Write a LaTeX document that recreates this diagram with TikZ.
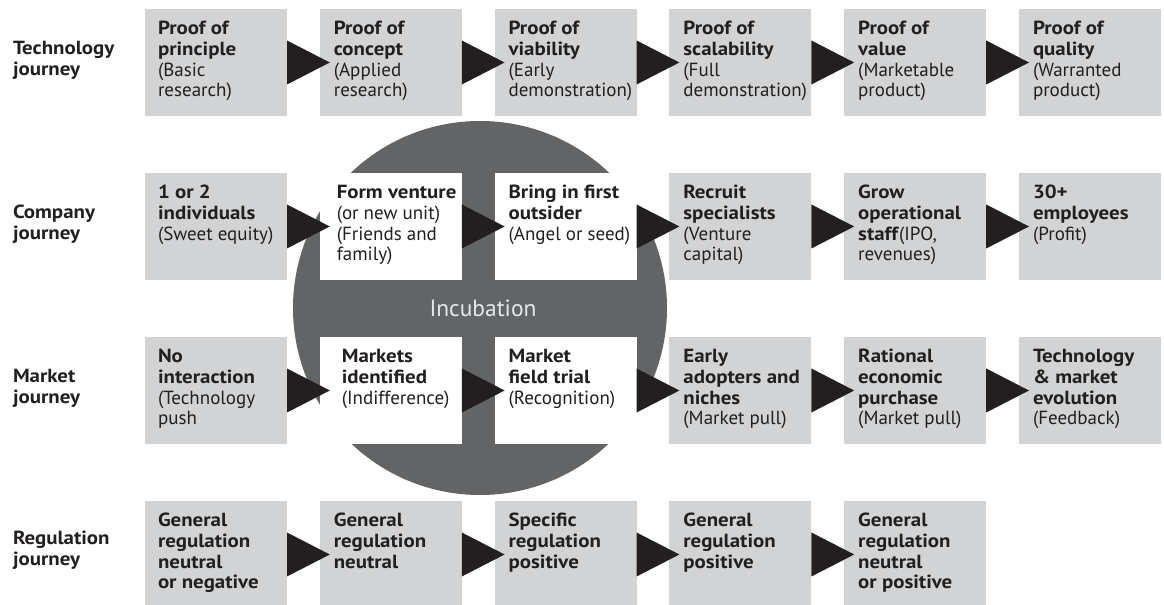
\documentclass[tikz,border=0pt]{standalone}
\usepackage{fontspec}
\setmainfont{PT Sans}[BoldFeatures={FakeStretch=1.1}]
\usetikzlibrary{calc}
\definecolor{boxgray}{HTML}{D1D3D4}
\definecolor{circgray}{HTML}{636466}
\definecolor{ink}{HTML}{231F20}
\definecolor{incub}{HTML}{E6E7E8}
\tikzset{
  gbox/.style={draw=none, fill=boxgray, anchor=north west, minimum width=106.5pt, minimum height=80.25pt, inner sep=0pt, outer sep=0pt},
  wbox/.style={gbox, fill=white},
  btext/.style={anchor=north west, inner sep=0pt, outer sep=0pt, align=left, text=ink, font=\fontsize{14.25}{15.5}\selectfont},
  arr/.style={fill=ink, draw=none},
}
\newcommand{\fl}{\rule{0pt}{10.5pt}}
\newcommand{\jarrow}[2]{\fill[arr] ($(#1.east)+(0,-22)$) -- ($(#1.east)+(0,22)$) -- ($(#2.west)+(10,0)$) -- cycle;}
\begin{document}
\begin{tikzpicture}[x=0.75pt, y=-0.75pt]
\useasboundingbox (0,0) rectangle (1164,605);
% incubation circle
\fill[circgray] (480,308) circle [radius=140.25pt];
\node[anchor=base, inner sep=0pt, text=incub, font=\fontsize{17.6}{18}\selectfont] (incu) at (483,317) {Incubation};
% row labels
\node[btext] (l1) at (13,41) {\fl\textbf{Technology}\\\textbf{journey}};
\node[btext] (l2) at (13,205) {\fl\textbf{Company}\\\textbf{journey}};
\node[btext] (l3) at (13,369) {\fl\textbf{Market}\\\textbf{journey}};
\node[btext] (l4) at (13,531) {\fl\textbf{Regulation}\\\textbf{journey}};
% row 1
\node[gbox] (t1) at (145,9) {};
\node[gbox] (t2) at (319.8,9) {};
\node[gbox] (t3) at (494.6,9) {};
\node[gbox] (t4) at (669.4,9) {};
\node[gbox] (t5) at (844.2,9) {};
\node[gbox] (t6) at (1019,9) {};
% row 2
\node[gbox] (c1) at (145,173) {};
\node[wbox] (c2) at (319.8,173) {};
\node[wbox] (c3) at (494.6,173) {};
\node[gbox] (c4) at (669.4,173) {};
\node[gbox] (c5) at (844.2,173) {};
\node[gbox] (c6) at (1019,173) {};
% row 3
\node[gbox] (m1) at (145,337) {};
\node[wbox] (m2) at (319.8,337) {};
\node[wbox] (m3) at (494.6,337) {};
\node[gbox] (m4) at (669.4,337) {};
\node[gbox] (m5) at (844.2,337) {};
\node[gbox] (m6) at (1019,337) {};
% row 4
\node[gbox] (r1) at (145,501) {};
\node[gbox] (r2) at (319.8,501) {};
\node[gbox] (r3) at (494.6,501) {};
\node[gbox] (r4) at (669.4,501) {};
\node[gbox] (r5) at (844.2,501) {};
% arrows
\jarrow{t1}{t2}\jarrow{t2}{t3}\jarrow{t3}{t4}\jarrow{t4}{t5}\jarrow{t5}{t6}
\jarrow{c1}{c2}\jarrow{c2}{c3}\jarrow{c3}{c4}\jarrow{c4}{c5}\jarrow{c5}{c6}
\jarrow{m1}{m2}\jarrow{m2}{m3}\jarrow{m3}{m4}\jarrow{m4}{m5}\jarrow{m5}{m6}
\jarrow{r1}{r2}\jarrow{r2}{r3}\jarrow{r3}{r4}\jarrow{r4}{r5}
% texts row 1
\node[btext] (tt1) at ($(t1.north west)+(13,12)$) {\fl\textbf{Proof of}\\\textbf{principle}\\(Basic\\research)};
\node[btext] (tt2) at ($(t2.north west)+(14,12)$) {\fl\textbf{Proof of}\\\textbf{concept}\\(Applied\\research)};
\node[btext] (tt3) at ($(t3.north west)+(14,12)$) {\fl\textbf{Proof of}\\\textbf{viability}\\(Early\\demonstration)};
\node[btext] (tt4) at ($(t4.north west)+(14,12)$) {\fl\textbf{Proof of}\\\textbf{scalability}\\(Full\\demonstration)};
\node[btext] (tt5) at ($(t5.north west)+(14,12)$) {\fl\textbf{Proof of}\\\textbf{value}\\(Marketable\\product)};
\node[btext] (tt6) at ($(t6.north west)+(14,12)$) {\fl\textbf{Proof of}\\\textbf{quality}\\(Warranted\\product)};
% texts row 2
\node[btext] (ct1) at ($(c1.north west)+(13,12)$) {\fl\textbf{1 or 2}\\\textbf{individuals}\\(Sweet equity)};
\node[btext] (ct2) at ($(c2.north west)+(17,12)$) {\fl\textbf{Form venture}\\(or new unit)\\(Friends and\\family)};
\node[btext] (ct3) at ($(c3.north west)+(14,12)$) {\fl\textbf{Bring in first}\\\textbf{outsider}\\(Angel or seed)};
\node[btext] (ct4) at ($(c4.north west)+(14,12)$) {\fl\textbf{Recruit}\\\textbf{specialists}\\(Venture\\capital)};
\node[btext] (ct5) at ($(c5.north west)+(14,12)$) {\fl\textbf{Grow}\\\textbf{operational}\\\textbf{staff}(IPO,\\revenues)};
\node[btext] (ct6) at ($(c6.north west)+(14,12)$) {\fl\textbf{30+}\\\textbf{employees}\\(Profit)};
% texts row 3
\node[btext] (mt1) at ($(m1.north west)+(13,12)$) {\fl\textbf{No}\\\textbf{interaction}\\(Technology\\push};
\node[btext] (mt2) at ($(m2.north west)+(22,12)$) {\fl\textbf{Markets}\\\textbf{identified}\\(Indifference)};
\node[btext] (mt3) at ($(m3.north west)+(14,12)$) {\fl\textbf{Market}\\\textbf{field trial}\\(Recognition)};
\node[btext] (mt4) at ($(m4.north west)+(14,12)$) {\fl\textbf{Early}\\\textbf{adopters and}\\\textbf{niches}\\(Market pull)};
\node[btext] (mt5) at ($(m5.north west)+(14,12)$) {\fl\textbf{Rational}\\\textbf{economic}\\\textbf{purchase}\\(Market pull)};
\node[btext] (mt6) at ($(m6.north west)+(14,12)$) {\fl\textbf{Technology}\\\textbf{\& market}\\\textbf{evolution}\\(Feedback)};
% texts row 4
\node[btext] (rt1) at ($(r1.north west)+(13,12)$) {\fl\textbf{General}\\\textbf{regulation}\\\textbf{neutral}\\\textbf{or negative}};
\node[btext] (rt2) at ($(r2.north west)+(14,12)$) {\fl\textbf{General}\\\textbf{regulation}\\\textbf{neutral}};
\node[btext] (rt3) at ($(r3.north west)+(14,12)$) {\fl\textbf{Specific}\\\textbf{regulation}\\\textbf{positive}};
\node[btext] (rt4) at ($(r4.north west)+(14,12)$) {\fl\textbf{General}\\\textbf{regulation}\\\textbf{positive}};
\node[btext] (rt5) at ($(r5.north west)+(14,12)$) {\fl\textbf{General}\\\textbf{regulation}\\\textbf{neutral}\\\textbf{or positive}};
\end{tikzpicture}
\end{document}
